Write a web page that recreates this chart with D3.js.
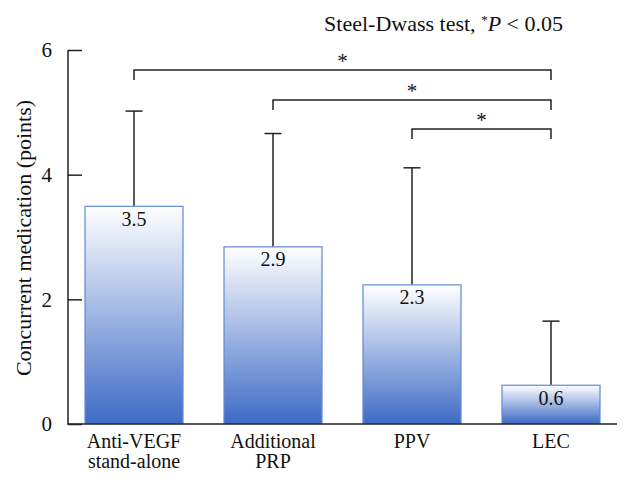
<!DOCTYPE html>
<html>
<head>
<meta charset="utf-8">
<script src="https://cdn.jsdelivr.net/npm/d3@7"></script>
<style>
body{margin:0;background:#fff;}
svg{display:block;}
svg text{font-family:"Liberation Serif","Times New Roman","DejaVu Serif",serif !important;}
</style>
</head>
<body>
<svg id="chart" width="632" height="482"></svg>
<script>
const categories = [["Anti-VEGF","stand-alone"],["Additional","PRP"],["PPV"],["LEC"]];
const means = [3.5, 2.85, 2.24, 0.63];
const labels = ["3.5","2.9","2.3","0.6"];
const errTops = [5.02, 4.66, 4.11, 1.65];
const yTicks = [0, 2, 4, 6];
const brackets = [[0,3],[1,3],[2,3]];

const FONT = "Liberation Serif";
const svg = d3.select("#chart").attr("font-family", FONT);
const x = d3.scaleBand().domain(d3.range(categories.length)).range([68, 617])
  .paddingInner(0.2878).paddingOuter(0.1187);
const y = d3.scaleLinear().domain([0, 6]).range([424, 50]);

const defs = svg.append("defs");
const grad = defs.append("linearGradient").attr("id","g").attr("x1",0).attr("y1",0).attr("x2",0).attr("y2",1);
grad.append("stop").attr("offset","0%").attr("stop-color","#ffffff");
grad.append("stop").attr("offset","100%").attr("stop-color","#3e6bc6");

// bars
svg.append("g").selectAll("rect").data(means).join("rect")
  .attr("x",(d,i)=>x(i)+0.5).attr("y",d=>y(d)+0.5)
  .attr("width",x.bandwidth()-1).attr("height",d=>y(0)-y(d)-1)
  .attr("fill","url(#g)").attr("stroke","#6289d4").attr("stroke-width",1.2);

// error bars
const eb = svg.append("g").attr("stroke","#222").attr("stroke-width",1.5);
errTops.forEach((v,i)=>{
  const cx = x(i)+x.bandwidth()/2;
  eb.append("line").attr("x1",cx).attr("x2",cx).attr("y1",y(means[i])).attr("y2",y(v));
  eb.append("line").attr("x1",cx-8.5).attr("x2",cx+8.5).attr("y1",y(v)).attr("y2",y(v));
});

// value labels
svg.append("g").selectAll("text").data(labels).join("text")
  .attr("x",(d,i)=>x(i)+x.bandwidth()/2).attr("y",(d,i)=>y(means[i])+20)
  .attr("text-anchor","middle").attr("font-size",20).attr("font-family",FONT).attr("fill","#111").text(d=>d);

// axes
const yAxis = d3.axisRight(y).tickValues(yTicks).tickSize(14).tickFormat(d3.format("d"));
const ga = svg.append("g").attr("transform","translate(68,0)").call(yAxis).attr("font-family",FONT);
ga.select(".domain").remove();
ga.selectAll(".tick line").attr("stroke","#222").attr("stroke-width",1.5);
ga.selectAll(".tick text").attr("x",-16).attr("text-anchor","end").attr("font-size",21)
  .attr("font-family",FONT).attr("fill","#111").attr("dy","0.33em");
svg.append("line").attr("x1",68).attr("x2",68).attr("y1",y(6)).attr("y2",y(0)).attr("stroke","#222").attr("stroke-width",1.5);
svg.append("line").attr("x1",67.25).attr("x2",617).attr("y1",y(0)).attr("y2",y(0)).attr("stroke","#222").attr("stroke-width",1.5);

// category labels
const cg = svg.append("g");
categories.forEach((lines,i)=>{
  const t = cg.append("text").attr("x",x(i)+x.bandwidth()/2).attr("y",448)
    .attr("text-anchor","middle").attr("font-size",20).attr("font-family",FONT).attr("fill","#111");
  lines.forEach((l,j)=>t.append("tspan").attr("x",x(i)+x.bandwidth()/2).attr("dy",j?20:0).text(l));
});

// y label
svg.append("text").attr("transform","translate(31,238) rotate(-90)")
  .attr("text-anchor","middle").attr("font-size",22).attr("font-family",FONT).attr("fill","#111")
  .text("Concurrent medication (points)");

// brackets
const bTops = [70, 100, 129];
const bg = svg.append("g").attr("fill","none").attr("stroke","#222").attr("stroke-width",1.5);
brackets.forEach((b,k)=>{
  const x1 = x(b[0])+x.bandwidth()/2, x2 = x(b[1])+x.bandwidth()/2, t = bTops[k];
  bg.append("path").attr("d",`M${x1},${t+10}V${t}H${x2}V${t+10}`);
  svg.append("text").attr("x",(x1+x2)/2).attr("y",t-2).attr("text-anchor","middle")
    .attr("font-size",21).attr("font-family",FONT).attr("fill","#111").text("*");
});

// title
const tt = svg.append("text").attr("x",563).attr("y",31).attr("text-anchor","end")
  .attr("font-size",22).attr("font-family",FONT).attr("fill","#111");
tt.append("tspan").text("Steel-Dwass test, ");
tt.append("tspan").attr("font-size",13).attr("dy",-7).text("*");
tt.append("tspan").attr("font-style","italic").attr("dy",7).text("P");
tt.append("tspan").text(" < 0.05");
</script>
</body>
</html>
